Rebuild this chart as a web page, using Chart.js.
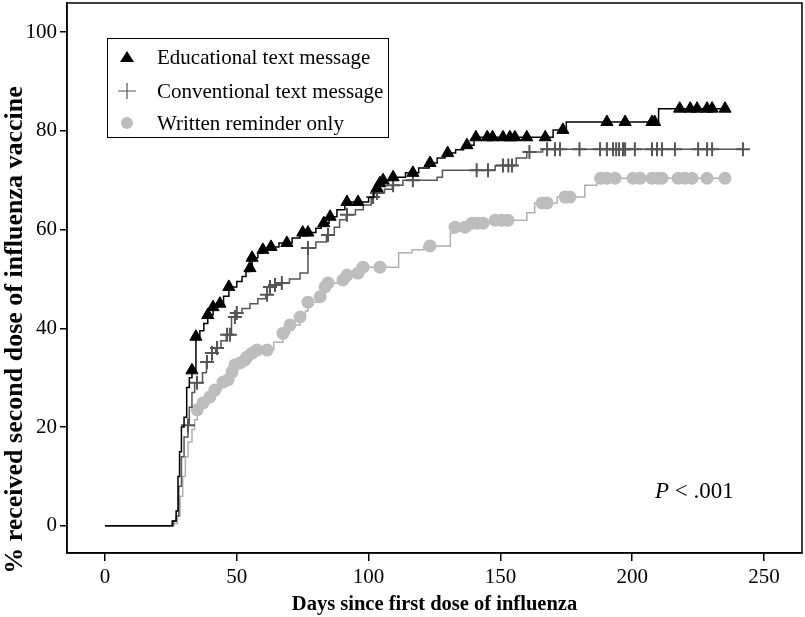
<!DOCTYPE html>
<html>
<head>
<meta charset="utf-8">
<script src="https://cdn.jsdelivr.net/npm/chart.js@4.4.0/dist/chart.umd.min.js"></script>
<style>
    html, body { margin: 0; padding: 0; background: #ffffff; }
    #km-chart { display: block; }
</style>
</head>
<body>
<canvas id="km-chart" width="805" height="617"></canvas>
<script>
const FONT = '"Liberation Serif", "Times New Roman", serif';

// Axis ticks
const xTicks = [0, 50, 100, 150, 200, 250];
const yTicks = [0, 20, 40, 60, 80, 100];

const seriesNames = ['Educational text message', 'Conventional text message', 'Written reminder only'];

// Kaplan-Meier steps: [day, cumulative %] (value after the step)
const eduSteps = [
    [0, 0], [25.5, 1], [27, 3], [27.7, 10], [28.3, 15], [29, 20], [30, 22], [31, 28], [32, 30],
    [33, 31.5], [34.5, 38.3], [36, 39.5], [37.5, 41], [39, 42.7], [41, 44.3], [43, 45], [45, 46.5],
    [47, 48.4], [50, 49.5], [52, 50.5], [53.5, 51.5], [55, 52.2], [55.8, 54.3], [58, 55.2], [59.9, 55.9],
    [62, 56.5], [66, 57.3], [71, 58.3], [74, 59.4], [80, 60.3], [82, 61.3], [85, 62.6], [88, 64],
    [91, 65.6], [100, 66.5], [102, 68.4], [104.3, 69.4], [105.5, 70], [108, 70.6], [114, 71.5],
    [119, 72.5], [123, 73.5], [126, 74.5], [129, 75.5], [133, 76.2], [136, 77.1], [140, 78.7],
    [170, 80.2], [175, 81.8], [210, 84.5], [236, 84.5]
];
const convSteps = [
    [0, 0], [26, 1], [27, 2], [28, 8], [29, 14], [30, 18], [31.5, 20.4], [32, 24], [33, 27], [34, 29],
    [37, 31], [38.5, 33.2], [40.5, 35], [42, 36], [44, 37.5], [46, 38.7], [48, 42.3], [50, 43.1],
    [52, 44], [55, 45], [58, 46], [61, 46.8], [62.5, 48.4], [64, 48.8], [67, 49.2], [70, 50],
    [74, 51.2], [77, 56.3], [80, 57.5], [84, 58.9], [87, 60.5], [89, 62], [91.5, 63], [95, 64],
    [98, 65], [101, 66.6], [103, 67.4], [106, 68.2], [109, 69], [113, 70], [126, 70.6], [128, 72],
    [148, 73], [156, 74.5], [160, 75.7], [166, 76.3], [242, 76.3]
];
const writSteps = [
    [0, 0], [26, 0.5], [27.5, 2], [28.5, 6], [29.5, 10], [30.5, 14], [31.5, 17], [33, 19.5], [34, 21.5],
    [35, 23.5], [37, 24.9], [39.5, 26.1], [41.5, 27.5], [44, 29.1], [46.5, 29.6], [48, 31.2], [49.3, 32.6],
    [51, 33], [53, 33.6], [54, 34.2], [55.8, 35], [57.5, 35.6], [64, 37.2], [67.5, 39], [70, 40.7],
    [74, 42.3], [76, 43.5], [77, 45.3], [81, 46.4], [83.5, 48.4], [84.6, 49.2], [89, 49.8], [91.8, 50.8],
    [95, 51.2], [97.9, 52.4], [111.4, 55.3], [116.5, 55.9], [121, 56.7], [131, 59.3], [132.5, 60.5],
    [139, 61.3], [146, 61.9], [160, 63.4], [163, 65.4], [171.5, 66.6], [182, 69], [186.6, 70.4], [235, 70.4]
];

// Censored observations: [day, %]
const eduCensor = [
    [33, 31.5], [34.5, 38.3], [39, 42.7], [41, 44.3], [43.6, 45], [47, 48.4], [55, 52.2], [55.8, 54.3],
    [59.9, 55.9], [63, 56.5], [69, 57.3], [75, 59.4], [77, 59.4], [83, 61.3], [85.4, 62.6], [91.8, 65.6],
    [96, 65.6], [103.2, 68.4], [104.3, 69.4], [105.5, 70], [109.3, 70.6], [116.8, 71.5], [123.3, 73.5],
    [130, 75.5], [137.3, 77.1], [140.7, 78.7], [145, 78.7], [147, 78.7], [151, 78.7], [153.6, 78.7],
    [155.5, 78.7], [160, 78.7], [167, 78.7], [173.7, 80.2], [190.4, 81.8], [197.3, 81.8], [207.5, 81.8],
    [208.5, 81.8], [218, 84.5], [222, 84.5], [224.6, 84.5], [228.4, 84.5], [230.3, 84.5], [235.2, 84.5]
];
const convCensor = [
    [31.5, 20.4], [34.9, 29], [38.7, 33.2], [40.6, 35], [42.5, 36], [46.3, 38.7], [47.4, 38.7],
    [49.3, 42.3], [50, 43.1], [61.5, 46.8], [62.6, 48.4], [64.5, 48.8], [67.1, 49.2], [77, 56.3],
    [84.6, 58.9], [91.8, 63], [101.7, 66.6], [103.2, 67.4], [109.3, 69], [116.8, 70], [141, 72],
    [145.3, 72], [151, 73], [153, 73], [154.4, 73], [161, 75.7], [167.7, 76.3], [170.7, 76.3],
    [172.6, 76.3], [180, 76.3], [187.8, 76.3], [190.4, 76.3], [192.7, 76.3], [193.9, 76.3], [195, 76.3],
    [196.5, 76.3], [197.3, 76.3], [201, 76.3], [207.5, 76.3], [209.4, 76.3], [211.3, 76.3], [216.2, 76.3],
    [225, 76.3], [228.4, 76.3], [230.3, 76.3], [242, 76.3]
];
const writCensor = [
    [35, 23.5], [37.2, 24.9], [39.8, 26.1], [41.7, 27.5], [44.8, 29.1], [46.7, 29.6], [48.2, 31.2],
    [49.3, 32.6], [51.2, 33], [53.1, 33.6], [53.9, 34.2], [55.8, 35], [57.7, 35.6], [61.5, 35.6],
    [67.5, 39], [70.2, 40.7], [74, 42.3], [77, 45.3], [81.6, 46.4], [83.5, 48.4], [84.6, 49.2],
    [90.3, 49.8], [91.8, 50.8], [96, 51.2], [97.9, 52.4], [104.3, 52.4], [123.3, 56.7], [132.8, 60.5],
    [136.6, 60.5], [139.2, 61.3], [141.1, 61.3], [143.4, 61.3], [148, 61.9], [150.6, 61.9], [152.9, 61.9],
    [165.8, 65.4], [167.7, 65.4], [174.5, 66.6], [176.4, 66.6], [188, 70.4], [190.4, 70.4], [193.5, 70.4],
    [200.3, 70.4], [203, 70.4], [207.5, 70.4], [209.8, 70.4], [211.3, 70.4], [217.4, 70.4], [220, 70.4],
    [222.7, 70.4], [228.4, 70.4], [235.2, 70.4]
];

const toXY = arr => arr.map(p => ({ x: p[0], y: p[1] }));

const EDU_COLOR = '#000000';
const CONV_COLOR = '#555555';
const WRIT_LINE = '#b0b0b0';
const WRIT_DOT = '#bdbdbd';

// Box around the plot, legend box, P value and rotated y title
const decorPlugin = {
    id: 'decor',
    afterDraw(chart) {
        const ctx = chart.ctx;
        const a = chart.chartArea;
        ctx.save();

        ctx.strokeStyle = '#000';
        ctx.lineWidth = 1.5;
        ctx.strokeRect(a.left, a.top, a.right - a.left, a.bottom - a.top);

        // legend
        const lx = 107.5, ly = 38.5, lw = 281, lh = 99;
        ctx.fillStyle = '#fff';
        ctx.fillRect(lx, ly, lw, lh);
        ctx.lineWidth = 1;
        ctx.strokeRect(lx, ly, lw, lh);

        const mx = 127;
        const rows = [57, 91, 123];

        ctx.fillStyle = EDU_COLOR;
        ctx.beginPath();
        ctx.moveTo(mx, rows[0] - 6);
        ctx.lineTo(mx + 7, rows[0] + 5);
        ctx.lineTo(mx - 7, rows[0] + 5);
        ctx.closePath();
        ctx.fill();

        ctx.strokeStyle = CONV_COLOR;
        ctx.lineWidth = 1.2;
        ctx.beginPath();
        ctx.moveTo(mx - 9, rows[1]); ctx.lineTo(mx + 9, rows[1]);
        ctx.moveTo(mx, rows[1] - 8); ctx.lineTo(mx, rows[1] + 8);
        ctx.stroke();

        ctx.fillStyle = WRIT_DOT;
        ctx.beginPath();
        ctx.arc(mx, rows[2], 6, 0, Math.PI * 2);
        ctx.fill();

        ctx.fillStyle = '#000';
        ctx.font = '21px ' + FONT;
        ctx.textAlign = 'left';
        ctx.textBaseline = 'middle';
        seriesNames.forEach((name, i) => ctx.fillText(name, 157, rows[i] + 1));

        // P value
        ctx.textBaseline = 'alphabetic';
        ctx.font = 'italic 23px ' + FONT;
        ctx.fillText('P', 655, 498);
        const pw = ctx.measureText('P').width;
        ctx.font = '23px ' + FONT;
        ctx.fillText(' < .001', 655 + pw, 498);

        // y axis title
        ctx.translate(15, 330);
        ctx.rotate(-Math.PI / 2);
        ctx.font = 'bold 26px ' + FONT;
        ctx.textAlign = 'center';
        ctx.textBaseline = 'middle';
        ctx.fillText('% received second dose of influenza vaccine', 0, 0);

        ctx.restore();
    }
};

const stepLine = (data, color, order) => ({
    type: 'line',
    data: toXY(data),
    borderColor: color,
    borderWidth: 1.5,
    stepped: true,
    pointRadius: 0,
    fill: false,
    order: order
});

const marks = (data, style, fill, stroke, radius, width, order) => ({
    type: 'scatter',
    data: toXY(data),
    showLine: false,
    pointStyle: style,
    pointRadius: radius,
    backgroundColor: fill,
    borderColor: stroke,
    borderWidth: width,
    order: order
});

// keep the plot box where the reference has it
const noPad = s => { s.paddingTop = 0; s.paddingBottom = 0; s.paddingLeft = 0; s.paddingRight = 0; };

const ctx = document.getElementById('km-chart');

new Chart(ctx, {
    data: {
        datasets: [
            marks(eduCensor, 'triangle', EDU_COLOR, EDU_COLOR, 7, 1, 1),
            stepLine(eduSteps, EDU_COLOR, 2),
            marks(convCensor, 'cross', CONV_COLOR, CONV_COLOR, 7, 2, 3),
            stepLine(convSteps, CONV_COLOR, 4),
            marks(writCensor, 'circle', WRIT_DOT, WRIT_DOT, 6.5, 0, 5),
            stepLine(writSteps, WRIT_LINE, 6)
        ]
    },
    options: {
        responsive: false,
        devicePixelRatio: 1,
        animation: false,
        layout: { autoPadding: false, padding: { top: 3, right: 3, left: 0, bottom: 0 } },
        plugins: {
            legend: { display: false },
            tooltip: { enabled: false }
        },
        scales: {
            x: {
                type: 'linear',
                min: -14.4,
                max: 264.4,
                afterBuildTicks: s => { s.ticks = xTicks.map(v => ({ value: v })); },
                afterFit: s => { s.height = 64; noPad(s); },
                grid: { drawOnChartArea: false, drawTicks: true, tickLength: 8, color: '#000', lineWidth: 1.5 },
                border: { color: '#000', width: 1.5 },
                ticks: { color: '#000', font: { family: FONT, size: 21 }, padding: 4, maxRotation: 0, autoSkip: false },
                title: {
                    display: true,
                    text: 'Days since first dose of influenza',
                    color: '#000',
                    font: { family: FONT, size: 20.5, weight: 'bold' },
                    padding: { top: 0, bottom: 0 }
                }
            },
            y: {
                type: 'linear',
                min: -5.5,
                max: 105.9,
                afterBuildTicks: s => { s.ticks = yTicks.map(v => ({ value: v })); },
                afterFit: s => { s.width = 67; noPad(s); },
                grid: { drawOnChartArea: false, drawTicks: true, tickLength: 7, color: '#000', lineWidth: 1.5 },
                border: { color: '#000', width: 1.5 },
                ticks: { color: '#000', font: { family: FONT, size: 21 }, padding: 3 }
            }
        }
    },
    plugins: [decorPlugin]
});
</script>
</body>
</html>
